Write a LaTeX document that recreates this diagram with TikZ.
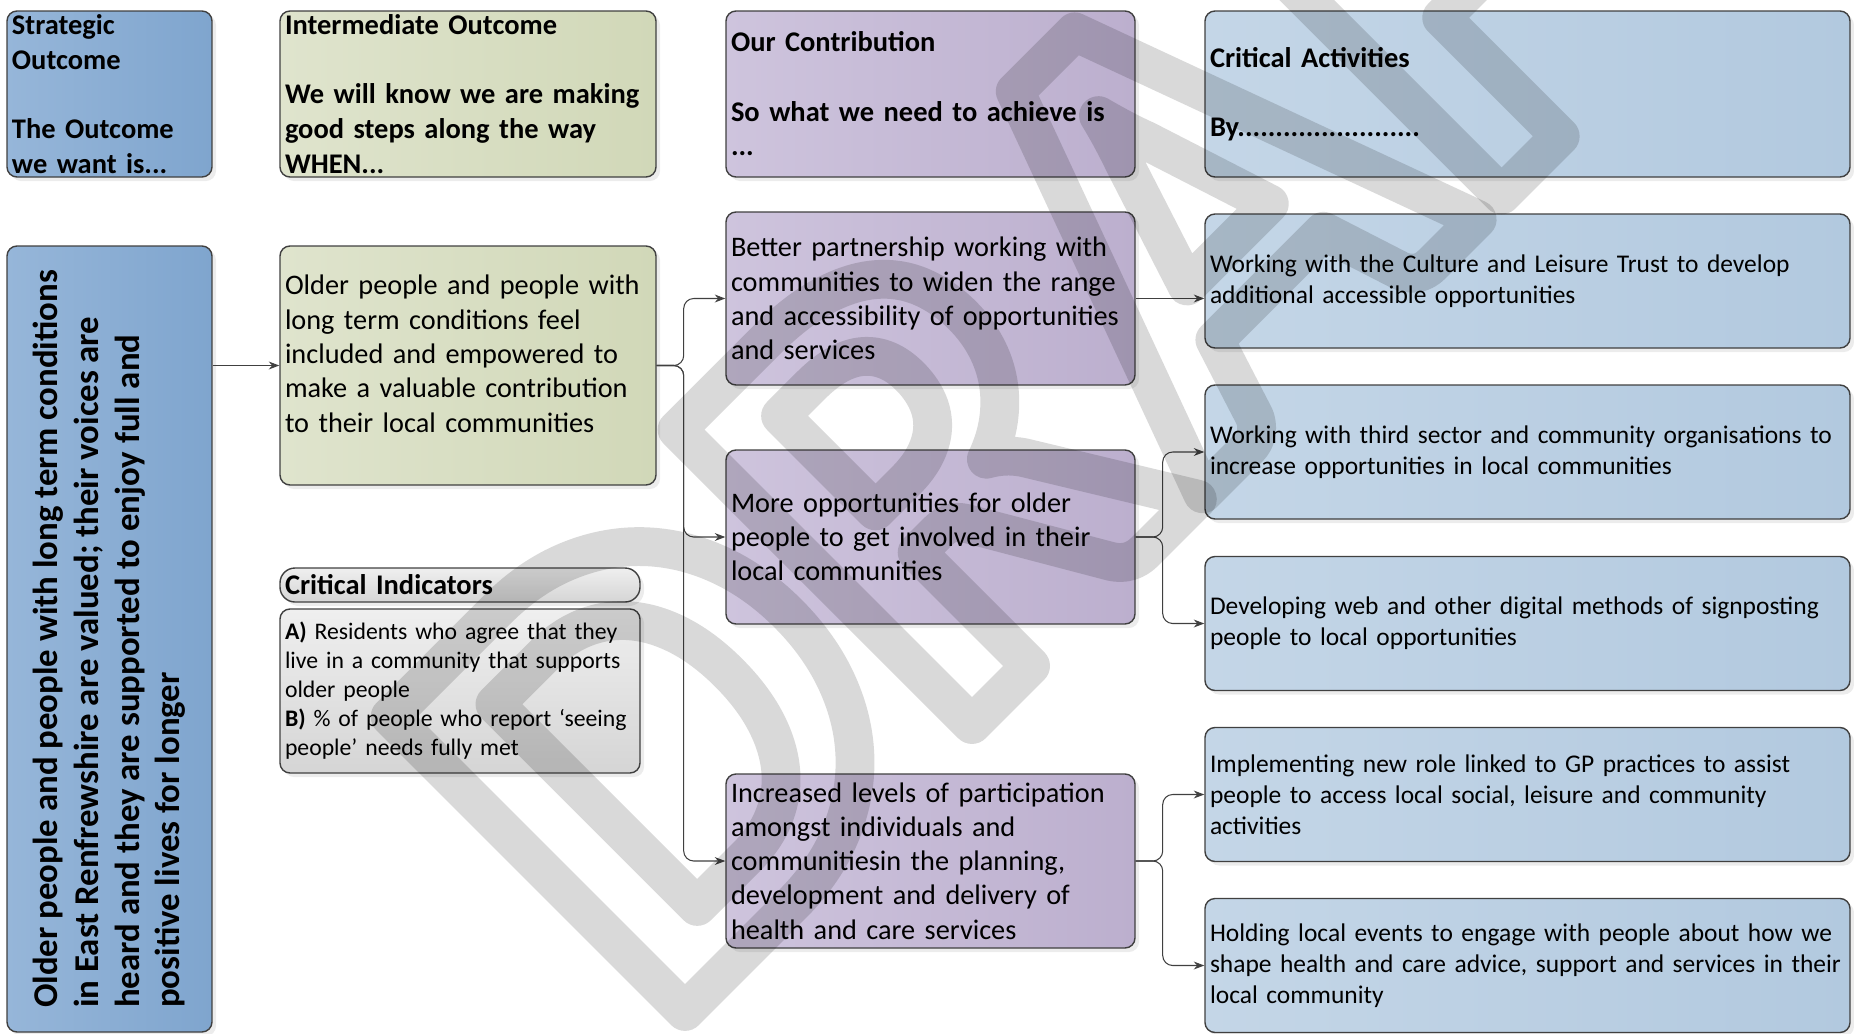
\documentclass[tikz,border=0pt]{standalone}
\usepackage{fontspec}
\setmainfont{Carlito}
\usetikzlibrary{arrows.meta,shadows}

\definecolor{boxline}{HTML}{404040}
\definecolor{soL}{HTML}{96B6D9}
\definecolor{soR}{HTML}{7FA5CE}
\definecolor{ioL}{HTML}{DFE4CD}
\definecolor{ioR}{HTML}{D1D8B8}
\definecolor{coL}{HTML}{CEC4DD}
\definecolor{coR}{HTML}{BCAFCE}
\definecolor{acL}{HTML}{C4D6E7}
\definecolor{acR}{HTML}{B2C9DF}
\definecolor{ciL}{HTML}{EFEFEF}
\definecolor{ciR}{HTML}{D5D5D5}

% hollow letters for the watermark
\newcommand\wmoutline[1]{\pgfsetstrokeopacity{0.15}%
  \special{pdf:literal direct 1 j 1 J 22 w 1 Tr}#1\special{pdf:literal direct 0 Tr}}

\begin{document}
\begin{tikzpicture}[x=1cm, y=-1cm,
    box/.style={draw=boxline, line width=0.8pt, rounded corners=0.2cm,
      inner xsep=0.1cm, inner ysep=0pt, align=left,
      drop shadow={shadow xshift=0.08cm, shadow yshift=-0.08cm, opacity=0.15}},
    headfont/.style={font=\fontsize{16.2}{19.7}\selectfont\bfseries},
    bodyfont/.style={font=\fontsize{16.1}{19.5}\selectfont},
    actfont/.style={font=\fontsize{14.5}{17.5}\selectfont},
    sobox/.style={box, left color=soL, right color=soR, text width=3.9cm},
    iobox/.style={box, left color=ioL, right color=ioR, text width=7.32cm},
    cobox/.style={box, left color=coL, right color=coR, text width=7.98cm},
    acbox/.style={box, left color=acL, right color=acR, text width=12.7cm},
    cibox/.style={box, top color=ciL, bottom color=ciR, text width=7.0cm},
    conn/.style={draw=boxline, line width=0.6pt, rounded corners=0.2cm,
      -{Stealth[length=6pt, width=4.5pt]}},
    wmark/.style={text=black, text opacity=0.15, draw opacity=0.15, inner sep=0pt,
      font=\fontsize{366}{366}\selectfont\bfseries}
  ]
  \useasboundingbox (0,0) rectangle (37.08,20.66);

  % column headers
  \node[sobox, headfont, minimum height=3.32cm] (sh) at (2.19,1.88)
    {Strategic\\ Outcome\\ ~\\ The Outcome\\ we want is...};
  \node[iobox, headfont, minimum height=3.32cm] (ih) at (9.36,1.88)
    {Intermediate Outcome\\ ~\\ We will know we are making\\ good steps along the way\\ WHEN...};
  \node[cobox, headfont, minimum height=3.32cm] (ch) at (18.61,1.88)
    {Our Contribution\\ ~\\ So what we need to achieve is\\ ...};
  \node[acbox, headfont, minimum height=3.32cm] (ah) at (30.55,1.88)
    {Critical Activities\\ ~\\ By........................};

  % strategic outcome
  \node[sobox, minimum height=15.72cm] (so) at (2.19,12.78) {};
  \node[rotate=90, align=left, inner sep=0pt,
    font=\fontsize{19.8}{23.1}\selectfont\bfseries] (sotext) at (so.center)
    {Older people and people with long term conditions\\
     in East Renfrewshire are valued; their voices are\\
     heard and they are supported to enjoy full and\\
     positive lives for longer};

  % intermediate outcome and indicators
  \node[iobox, bodyfont, minimum height=4.78cm] (io) at (9.36,7.31)
    {Older people and people with\\ long term conditions feel\\ included and empowered to\\
     make a valuable contribution\\ to their local communities\\[-6pt] ~};
  \node[cibox, headfont, rounded corners=0.3cm, minimum height=0.68cm] (cih) at (9.20,11.70)
    {Critical Indicators};
  \node[cibox, minimum height=3.28cm, font=\fontsize{13.5}{16.5}\selectfont] (cib) at (9.20,13.82)
    {\textbf{A)} Residents who agree that they\\ live in a community that supports\\ older people\\
     \textbf{B)} \% of people who report ‘seeing\\ people’ needs fully met};

  % our contribution
  \node[cobox, bodyfont, minimum height=3.46cm] (c1) at (18.61,5.97)
    {Better partnership working with\\ communities to widen the range\\
     and accessibility of opportunities\\ and services};
  \node[cobox, bodyfont, minimum height=3.48cm] (c2) at (18.61,10.74)
    {More opportunities for older\\ people to get involved in their\\ local communities};
  \node[cobox, bodyfont, minimum height=3.48cm] (c3) at (18.61,17.22)
    {Increased levels of participation\\ amongst individuals and\\ communitiesin the planning,\\
     development and delivery of\\ health and care services};

  % critical activities
  \node[acbox, actfont, minimum height=2.68cm] (a1) at (30.55,5.62)
    {Working with the Culture and Leisure Trust to develop\\ additional accessible opportunities};
  \node[acbox, actfont, minimum height=2.68cm] (a2) at (30.55,9.04)
    {Working with third sector and community organisations to\\ increase opportunities in local communities};
  \node[acbox, actfont, minimum height=2.68cm] (a3) at (30.55,12.47)
    {Developing web and other digital methods of signposting\\ people to local opportunities};
  \node[acbox, actfont, minimum height=2.68cm] (a4) at (30.55,15.89)
    {Implementing new role linked to GP practices to assist\\ people to access local social, leisure and community\\ activities};
  \node[acbox, actfont, minimum height=2.68cm] (a5) at (30.55,19.31)
    {Holding local events to engage with people about how we\\ shape health and care advice, support and services in their\\ local community};

  % connectors
  \draw[conn] (io.west -| so.east) -- (io.west);
  \draw[conn] (io.east) -- ++(0.54,0) |- (c1.west);
  \draw[conn] (io.east) -- ++(0.54,0) |- (c2.west);
  \draw[conn] (io.east) -- ++(0.54,0) |- (c3.west);
  \draw[conn] (c1.east) -- (c1.east -| a1.west);
  \draw[conn] (c2.east) -- ++(0.54,0) |- (a2.west);
  \draw[conn] (c2.east) -- ++(0.54,0) |- (a3.west);
  \draw[conn] (c3.east) -- ++(0.54,0) |- (a4.west);
  \draw[conn] (c3.east) -- ++(0.54,0) |- (a5.west);

  % watermark
  \node[wmark, rotate=45, anchor=base west] (wm) at (13.18,20.75) {\wmoutline{DRAFT}};
\end{tikzpicture}
\end{document}
